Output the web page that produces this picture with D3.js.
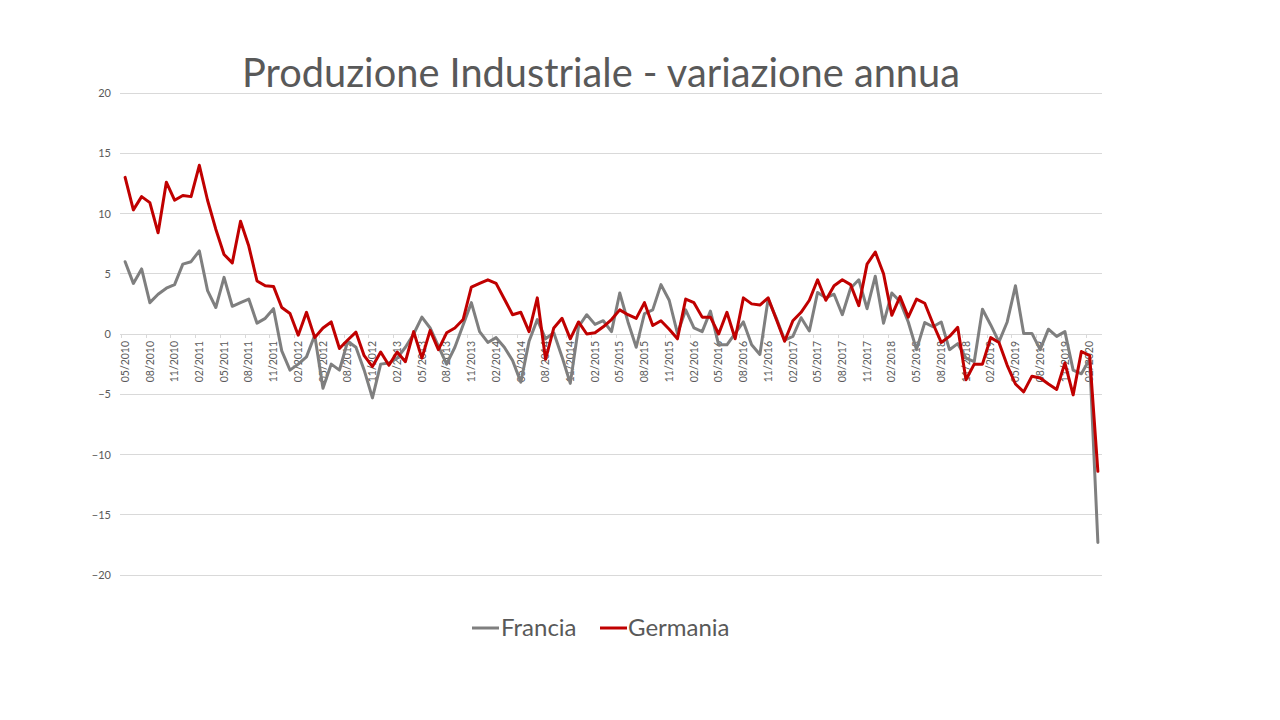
<!DOCTYPE html>
<html>
<head>
<meta charset="utf-8">
<script src="https://cdn.jsdelivr.net/npm/d3@7"></script>
<style>
  html, body { margin: 0; padding: 0; background: #fff; }
  svg { display: block; }
  text { font-family: Lato, "Open Sans", sans-serif; fill: #595959; }
</style>
</head>
<body>
<svg id="chart" width="1280" height="720"></svg>
<script>
// ---- Data ----
const startYear = 2010, startMonth = 5, nMonths = 119; // 05/2010 .. 03/2020
const categories = [];
for (let k = 0; k < nMonths; k++) {
  const m = (startMonth - 1 + k) % 12 + 1;
  const y = startYear + Math.floor((startMonth - 1 + k) / 12);
  categories.push((m < 10 ? "0" + m : "" + m) + "/" + y);
}

const francia = [
  6.0, 4.2, 5.4, 2.6, 3.3, 3.8, 4.1, 5.8, 6.0, 6.9,
  3.6, 2.2, 4.7, 2.3, 2.6, 2.9, 0.9, 1.3, 2.1, -1.4,
  -3.0, -2.5, -1.9, -0.1, -4.5, -2.5, -3.0, -0.6, -1.1, -3.0,
  -5.3, -2.5, -2.4, -2.0, -1.1, 0.0, 1.4, 0.5, -1.0, -2.5,
  -1.1, 0.75, 2.6, 0.2, -0.7, -0.3, -1.1, -2.2, -4.0, -0.6,
  1.2, -0.4, 0.1, -1.9, -4.1, 0.6, 1.6, 0.8, 1.1, 0.2,
  3.4, 1.0, -1.1, 1.7, 2.0, 4.1, 2.8, 0.05, 2.0, 0.5,
  0.2, 1.9, -0.9, -0.9, 0.05, 1.0, -0.9, -1.7, 2.9, 1.3,
  -0.5, -0.2, 1.35, 0.25, 3.45, 3.0, 3.3, 1.6, 3.8, 4.5,
  2.1, 4.8, 0.9, 3.4, 2.7, 1.0, -1.3, 0.95, 0.6, 1.0,
  -1.3, -0.8, -2.0, -2.3, 2.05, 0.75, -0.65, 1.0, 4.0, 0.05,
  0.05, -1.3, 0.4, -0.2, 0.2, -3.0, -3.3, -2.1, -17.3
];

const germania = [
  13.0, 10.3, 11.4, 10.9, 8.4, 12.6, 11.1, 11.5, 11.4, 14.0,
  11.1, 8.7, 6.6, 5.9, 9.35, 7.3, 4.4, 4.0, 3.95, 2.2,
  1.7, -0.1, 1.8, -0.3, 0.5, 1.0, -1.2, -0.5, 0.15, -1.8,
  -2.7, -1.5, -2.6, -1.5, -2.3, 0.2, -2.0, 0.3, -1.3, 0.1,
  0.5, 1.2, 3.9, 4.2, 4.5, 4.2, 2.9, 1.6, 1.8, 0.2,
  3.0, -2.1, 0.5, 1.3, -0.4, 1.0, 0.0, 0.1, 0.6, 1.2,
  2.0, 1.6, 1.3, 2.6, 0.7, 1.1, 0.4, -0.4, 2.9, 2.6,
  1.4, 1.4, 0.0, 1.8, -0.4, 3.0, 2.5, 2.4, 3.0, 1.2,
  -0.6, 1.1, 1.8, 2.8, 4.5, 2.8, 4.0, 4.5, 4.1, 2.35,
  5.8, 6.8, 5.0, 1.55, 3.1, 1.4, 2.9, 2.55, 0.85, -0.7,
  -0.2, 0.55, -3.8, -2.5, -2.5, -0.3, -0.7, -2.6, -4.15, -4.8,
  -3.5, -3.65, -4.15, -4.6, -2.4, -5.05, -1.45, -1.8, -11.4
];

const yTicks = [20, 15, 10, 5, 0, -5, -10, -15, -20];
const seriesNames = ["Francia", "Germania"];
const seriesColors = ["#7f7f7f", "#c00000"];
const titleText = "Produzione Industriale - variazione annua";

// ---- Layout ----
const svg = d3.select("#chart");
const plot = { left: 120, right: 1102, top: 93, bottom: 575 };

const x = d3.scaleBand().domain(categories).range([121, 1102]).paddingInner(0).paddingOuter(0);
const y = d3.scaleLinear().domain([-20, 20]).range([plot.bottom, plot.top]);
const cx = d => x(d) + x.bandwidth() / 2;

// Title
const title = svg.append("text")
  .attr("x", 601).attr("y", 87)
  .attr("text-anchor", "middle")
  .style("font-size", "37px")
  .text(titleText);
// fit title width to reference (~718px)
const tl = title.node().getComputedTextLength();
title.style("font-size", (37 * 718 / tl).toFixed(2) + "px");

// Gridlines
svg.append("g").selectAll("line").data(yTicks).join("line")
  .attr("x1", plot.left).attr("x2", plot.right)
  .attr("y1", d => y(d)).attr("y2", d => y(d))
  .attr("stroke", "#d9d9d9").attr("stroke-width", 1)
  .attr("shape-rendering", "crispEdges");

// Y labels
const yAxis = d3.axisLeft(y).tickValues(yTicks).tickSize(0).tickPadding(0);
const yg = svg.append("g").attr("transform", "translate(111,0)").call(yAxis);
yg.select(".domain").remove();
yg.selectAll("text").attr("x", 0).style("font-size", "11px").style("fill", "#595959")
  .style("font-family", "Lato, sans-serif");

// X axis at 0
const tickCats = categories.filter((d, i) => i % 3 === 0);
const xg = svg.append("g");
xg.selectAll("line.tick").data(tickCats).join("line")
  .attr("class", "tick")
  .attr("x1", d => Math.round(x(d)) + 0.5).attr("x2", d => Math.round(x(d)) + 0.5)
  .attr("y1", y(0)).attr("y2", y(0) + 4)
  .attr("stroke", "#d9d9d9").attr("stroke-width", 1);
xg.selectAll("text").data(tickCats).join("text")
  .attr("transform", d => `translate(${cx(d)},${y(0) + 7}) rotate(-90)`)
  .attr("text-anchor", "end")
  .attr("dy", "0.35em")
  .style("font-size", "10.5px")
  .text(d => d);

// Lines
const line = d3.line().x((d, i) => cx(categories[i])).y(d => y(d));
[francia, germania].forEach((s, k) => {
  svg.append("path").datum(s)
    .attr("d", line)
    .attr("fill", "none")
    .attr("stroke", seriesColors[k])
    .attr("stroke-width", 3)
    .attr("stroke-linejoin", "round")
    .attr("stroke-linecap", "round");
});

// Legend
const legendItems = [
  { name: seriesNames[0], color: seriesColors[0], x1: 472, x2: 499, tx: 501 },
  { name: seriesNames[1], color: seriesColors[1], x1: 600, x2: 627, tx: 628 }
];
const lg = svg.append("g");
legendItems.forEach(it => {
  lg.append("line").attr("x1", it.x1).attr("x2", it.x2).attr("y1", 628).attr("y2", 628)
    .attr("stroke", it.color).attr("stroke-width", 3);
  lg.append("text").attr("x", it.tx).attr("y", 636).style("font-size", "24px").text(it.name);
});
</script>
</body>
</html>
